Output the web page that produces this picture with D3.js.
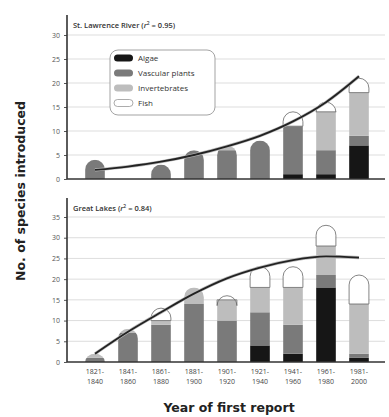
<!DOCTYPE html>
<html><head><meta charset="utf-8">
<script src="https://cdn.jsdelivr.net/npm/d3@7"></script>
<style>body{margin:0;background:#fff}svg{display:block}text{font-family:"Open Sans","DejaVu Sans",sans-serif}</style>
</head><body>
<script>
const categories = ["1821-1840","1841-1860","1861-1880","1881-1900","1901-1920","1921-1940","1941-1960","1961-1980","1981-2000"];
const seriesNames = ["Algae","Vascular plants","Invertebrates","Fish"];
// St. Lawrence River
const slAlgae  = [0,0,0,0,0,0,1,1,7];
const slVasc   = [4,0,3,6,6,8,10,5,2];
const slInv    = [0,0,0,0,1,0,0,8,9];
const slFish   = [0,0,0,0,0,0,3,2,3];
const slTrend  = [1.9,2.6,3.6,5.0,6.8,9.0,12.0,16.0,21.4];
const slTicks  = [0,5,10,15,20,25,30];
// Great Lakes
const glAlgae  = [0,0,0,0,0,4,2,18,1];
const glVasc   = [1,7,9,14,10,8,7,3,1];
const glInv    = [1,1,1,4,5,6,9,7,12];
const glFish   = [0,0,3,0,1,5,5,5,7];
const glTrend  = [2.0,7.3,12.0,16.5,20.2,22.8,24.6,25.5,25.2];
const glTicks  = [0,5,10,15,20,25,30,35];

const colors = ["#161616","#7a7a7a","#bdbdbd","#ffffff"];

const W=389,H=417;
const svg=d3.select("body").append("svg").attr("width",W).attr("height",H);
const defs=svg.append("defs");
const x=d3.scaleBand().domain(categories).range([78.5,375.5]).paddingInner(0.4).paddingOuter(0.2);
const axisX=67, axisRight=385;

function panel(id, title, series, trend, ticks, yTop, y0, ymax, yMaxPix){
  const y=d3.scaleLinear().domain([0,ymax]).range([y0,yMaxPix]);
  const g=svg.append("g");
  g.selectAll(".grid").data(ticks.filter(t=>t>0)).join("line")
    .attr("x1",axisX).attr("x2",axisRight).attr("y1",d=>y(d)).attr("y2",d=>y(d))
    .attr("stroke","#d4d4d4").attr("stroke-width",0.8);
  const ax=g.append("g").attr("transform",`translate(${axisX},0)`)
    .call(d3.axisLeft(y).tickValues(ticks).tickSize(3).tickPadding(4));
  ax.select(".domain").remove();
  ax.selectAll("line").attr("stroke","#555");
  ax.selectAll("text").attr("font-size",7).attr("fill","#555");
  g.append("line").attr("x1",axisX).attr("x2",axisX).attr("y1",yTop).attr("y2",y0)
    .attr("stroke","#333").attr("stroke-width",1.6);
  const bw=x.bandwidth(), r=bw/2;
  categories.forEach((c,i)=>{
    const vals=series.map(s=>s[i]);
    const total=d3.sum(vals);
    if(total<=0) return;
    const bx=x(c), ty=y(total), by=y(0);
    const rr=Math.min(r, by-ty);
    const shape=`M${bx},${by}V${ty+rr}A${r},${rr} 0 0 1 ${bx+bw},${ty+rr}V${by}Z`;
    const cid=`clip-${id}-${i}`;
    defs.append("clipPath").attr("id",cid).append("path").attr("d",shape);
    const bg=g.append("g").attr("clip-path",`url(#${cid})`);
    let acc=0;
    vals.forEach((v,k)=>{
      if(v<=0) return;
      bg.append("rect").attr("x",bx).attr("width",bw)
        .attr("y",y(acc+v)).attr("height",y(acc)-y(acc+v)).attr("fill",colors[k]);
      acc+=v;
    });
    const fish=vals[3];
    if(fish>0){
      const fb=y(total-fish);
      g.append("path").attr("d",`M${bx},${fb}V${ty+rr}A${r},${rr} 0 0 1 ${bx+bw},${ty+rr}V${fb}Z`)
        .attr("fill","none").attr("stroke","#666").attr("stroke-width",0.8);
    }
  });
  g.append("line").attr("x1",axisX).attr("x2",axisRight).attr("y1",y0).attr("y2",y0)
    .attr("stroke","#333").attr("stroke-width",1.6);
  const line=d3.line().x((d,i)=>x(categories[i])+x.bandwidth()/2).y(d=>y(d)).curve(d3.curveMonotoneX);
  g.append("path").datum(trend).attr("d",line).attr("fill","none").attr("stroke","#bbb").attr("stroke-width",3.2);
  g.append("path").datum(trend).attr("d",line).attr("fill","none").attr("stroke","#222").attr("stroke-width",1.8);
  const t=g.append("text").attr("x",73).attr("y",yTop+13).attr("font-size",7.5).attr("font-weight",600).attr("fill","#333");
  t.append("tspan").text(title[0]);
  t.append("tspan").attr("font-style","italic").text("r");
  t.append("tspan").attr("font-size",5).attr("dy",-3).text("2");
  t.append("tspan").attr("dy",3).text(title[1]);
  return y;
}

panel("sl",["St. Lawrence River (", " = 0.95)"],[slAlgae,slVasc,slInv,slFish],slTrend,slTicks,15,179,30,35);
panel("gl",["Great Lakes (", " = 0.84)"],[glAlgae,glVasc,glInv,glFish],glTrend,glTicks,198,362,35,217);

const xl=svg.append("g");
categories.forEach(c=>{
  const parts=c.split("-");
  const cx=x(c)+x.bandwidth()/2;
  const t=xl.append("text").attr("x",cx).attr("y",374).attr("text-anchor","middle").attr("font-size",7).attr("fill","#444");
  t.append("tspan").attr("x",cx).text(parts[0]+"-");
  t.append("tspan").attr("x",cx).attr("dy",10).text(parts[1]);
});

svg.append("text").attr("x",229).attr("y",412).attr("text-anchor","middle")
  .style("font-family","'DejaVu Sans',sans-serif")
  .attr("font-size",12.5).attr("font-weight",700).attr("fill","#222").text("Year of first report");
svg.append("text").attr("transform","translate(25,191) rotate(-90)").attr("text-anchor","middle")
  .style("font-family","'DejaVu Sans',sans-serif")
  .attr("font-size",12.5).attr("font-weight",700).attr("fill","#222").text("No. of species introduced");

const lg=svg.append("g");
lg.append("rect").attr("x",110).attr("y",50).attr("width",105).attr("height",65).attr("rx",8)
  .attr("fill","#fff").attr("stroke","#999").attr("stroke-width",0.9);
seriesNames.forEach((n,i)=>{
  const yy=58+i*15;
  lg.append("rect").attr("x",114).attr("y",yy-3.5).attr("width",19).attr("height",7).attr("rx",3.5)
    .attr("fill",colors[i]).attr("stroke",i===3?"#888":"none").attr("stroke-width",0.7);
  lg.append("text").attr("x",138).attr("y",yy+2.8).attr("font-size",8).attr("fill","#333").text(n);
});
</script>
</body></html>
